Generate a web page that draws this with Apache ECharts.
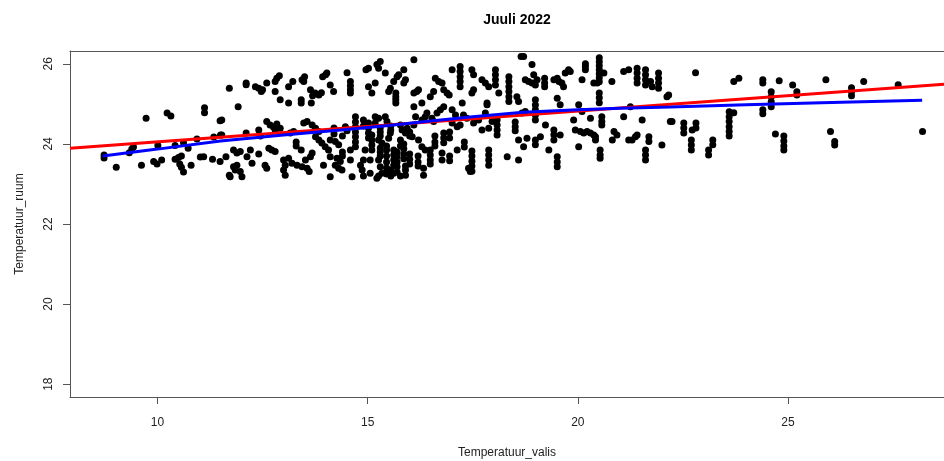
<!DOCTYPE html>
<html>
<head>
<meta charset="utf-8">
<script src="https://cdn.jsdelivr.net/npm/echarts@6/dist/echarts.min.js"></script>
<style>html,body{margin:0;padding:0;background:#fff}#c{width:944px;height:461px}</style>
</head>
<body>
<div id="c"></div>
<script>
const chartTitle = 'Juuli 2022';
const xName = 'Temperatuur_valis';
const yName = 'Temperatuur_ruum';
const xTicks = [10, 15, 20, 25];
const yTicks = [18, 20, 22, 24, 26];

// [Temperatuur_valis, Temperatuur_ruum]
const observations = [
[8.73,23.72],[8.73,23.65],[9.02,23.42],[9.39,23.87],[9.33,23.78],[9.43,23.92],[9.73,24.64],[9.62,23.47],
[10.01,23.96],[9.91,23.56],[9.99,23.5],[10.1,23.6],[10.23,24.77],[10.32,24.7],[10.42,23.96],[10.62,24.03],
[10.73,23.89],[10.42,23.62],[10.5,23.66],[10.57,23.7],[10.53,23.5],[10.57,23.42],[10.62,23.3],[10.8,23.47],
[10.94,24.12],[11.02,23.67],[11.1,23.68],[11.12,24.9],[11.12,24.78],[11.31,23.62],[11.34,24.17],[11.49,24.58],
[11.49,23.56],[11.5,24.22],
[11.71,25.39],[11.92,24.93],[12.11,25.52],[12.11,25.48],[12.33,25.43],[12.41,25.39],[12.5,25.35],[12.47,25.31],
[12.6,25.52],[12.8,25.56],[12.84,25.64],[12.9,25.7],[12.8,25.31],[12.92,25.1],[13.12,25.02],[13.12,25.43],
[13.22,25.56],[13.42,25.1],[13.42,25.02],[13.44,25.6],[13.5,25.68],[13.48,25.56],[13.64,25.35],[13.69,25.2],
[13.66,25.02],[13.75,25.27],[13.84,25.22],[13.9,25.28],[13.93,25.68],[14.0,25.73],[14.03,25.77],[14.11,25.47],
[14.19,25.31],[14.51,25.78],[14.59,25.56],[14.59,25.45],[14.59,25.35],[14.59,25.27],[14.96,25.85],[15.02,25.89],
[15.02,25.43],
[11.53,24.6],[11.53,24.22],[11.63,23.68],[11.73,23.18],[11.71,23.22],[11.81,23.85],[11.89,23.77],[11.97,23.81],
[11.81,23.43],[11.85,23.35],[11.89,23.47],[11.97,23.31],[12.01,23.18],[12.11,24.27],[12.13,23.68],[12.25,23.52],
[12.21,23.85],[12.41,24.35],[12.45,24.2],[12.41,23.75],[12.6,24.56],[12.68,24.47],[12.76,24.42],[12.84,24.5],
[12.92,24.39],[12.8,24.35],[12.65,23.89],[12.72,23.85],[12.8,23.81],[12.56,23.47],[12.6,23.39],[13.0,23.6],
[13.04,23.47],[13.0,23.35],[13.04,23.22],[13.12,23.64],[13.2,23.52],[13.32,23.47],[13.44,23.43],[13.16,24.27],
[13.24,24.31],[13.42,23.85],[13.48,24.52],[13.56,24.56],[13.52,23.6],[13.64,23.68],[13.68,23.77],[13.56,23.39],
[13.61,23.31],[13.68,24.47],[13.76,24.39],[13.84,24.31],[13.76,24.18],[13.84,24.1],[13.91,24.02],[13.99,23.93],
[14.07,23.85],[13.95,23.47],[14.11,24.1],[14.23,24.06],[14.31,23.98],[14.11,23.68],[14.27,23.64],[14.35,23.56],
[14.11,23.18],[14.23,23.47],[14.31,23.39],[14.39,23.35],[14.47,24.43],[14.51,24.33],[14.59,23.85],[14.59,23.6],
[14.63,23.18],[14.71,24.68],[14.71,24.55],[14.71,24.42],[14.71,24.3],[14.71,24.18],[14.71,24.05],[14.71,23.93],
[14.83,23.47],[14.87,23.35],[14.94,23.85],[15.02,24.52],[15.02,24.4],[15.02,24.27],[15.02,24.15],[15.06,23.6],
[15.06,23.27],
[13.3,24.05],[13.3,23.95],[14.2,24.4],[14.2,24.25],[14.4,23.8],[14.4,23.7],[14.4,24.2],[14.9,24.45],[14.9,24.6],
[14.9,23.6],[14.9,23.2],
[15.22,25.98],[15.26,25.89],[15.3,26.06],[15.18,25.52],[15.1,25.27],[15.42,25.77],[15.5,25.31],[15.54,25.39],
[15.62,25.56],[15.7,25.68],[15.74,25.73],[15.67,25.27],[15.67,25.18],[15.67,25.1],[15.67,25.02],[15.86,25.85],
[15.9,25.6],[15.86,25.52],[16.1,26.1],[16.1,25.27],[16.17,25.31],[16.21,25.35],[16.29,25.02],[16.49,25.18],
[16.57,25.31],[16.61,25.64],[16.69,25.56],[16.77,25.52],[16.81,25.35],[16.89,25.27],[16.94,25.22],[17.01,25.85],
[17.2,25.93],[17.2,25.81],[17.2,25.68],[17.2,25.56],[17.2,25.43],[17.25,25.02],[17.48,25.85],[17.52,25.73],
[17.48,25.27],[17.52,25.35],[17.72,25.6],[17.8,25.52],[17.88,25.43],[17.84,24.98],[18.04,25.85],[18.04,25.73],
[18.04,25.6],[18.04,25.47],[18.12,25.27],[18.36,25.68],[18.36,25.56],[18.36,25.43],[18.36,25.31],[18.36,25.18],
[18.36,25.06],[18.55,25.18],[18.59,25.06],[18.65,26.18],
[15.18,24.68],[15.26,24.64],[15.18,24.52],[15.1,24.22],[15.1,24.1],[15.1,23.97],[15.1,23.85],[15.26,24.1],
[15.34,24.02],[15.26,23.6],[15.3,23.43],[15.34,23.27],[15.22,23.14],[15.26,23.2],[15.42,24.68],[15.46,24.56],
[15.54,24.27],[15.5,24.14],[15.62,23.85],[15.62,23.72],[15.62,23.6],[15.62,23.47],[15.62,23.27],[15.7,23.8],
[15.7,23.68],[15.7,23.55],[15.7,23.43],[15.7,23.3],[15.78,24.47],[15.82,24.35],[15.9,24.27],[15.94,24.39],
[15.86,24.0],[15.86,23.88],[15.86,23.75],[15.86,23.63],[15.9,23.45],[15.9,23.35],[15.9,23.22],[16.1,24.93],
[16.14,24.68],[16.1,24.47],[16.06,24.18],[16.29,24.6],[16.37,24.68],[16.41,24.77],[16.21,24.1],[16.29,23.93],
[16.37,23.85],[16.33,23.39],[16.33,23.22],[16.53,24.64],[16.57,24.56],[16.49,23.85],[16.49,23.72],[16.49,23.6],
[16.49,23.5],[16.65,24.77],[16.73,24.85],[16.81,24.93],[16.81,24.27],[16.81,24.15],[16.81,24.03],[16.77,23.77],
[16.77,23.6],[17.01,24.85],[17.09,24.72],[17.01,24.52],[17.13,24.43],[17.2,24.47],[17.13,23.85],[17.28,24.72],
[17.36,24.64],[17.48,23.82],[17.48,23.7],[17.48,23.57],[17.48,23.45],[17.48,23.32],[17.4,23.39],[17.44,23.31],
[17.52,24.52],[17.64,24.6],[17.84,25.02],[17.8,24.77],[17.72,24.35],[17.88,24.39],[17.96,24.56],[17.88,23.85],
[17.88,23.72],[17.88,23.6],[17.88,23.47],[18.08,24.6],[18.08,24.47],[18.08,24.35],[18.08,24.22],[18.32,23.68],
[18.51,24.55],[18.51,24.43],[18.51,24.33],[18.59,24.1],[18.59,23.6],
[15.3,24.4],[15.3,24.3],[15.3,24.2],[15.3,23.9],[15.3,23.8],[15.3,23.7],[15.45,23.95],[15.45,23.85],[15.45,23.7],
[15.45,23.55],[15.45,23.4],[15.45,23.25],[15.55,24.45],[15.55,24.35],[15.55,23.35],[15.55,23.2],[15.78,24.1],
[15.78,23.95],[15.78,23.2],[16.0,24.3],[16.0,24.2],[16.0,23.75],[16.0,23.62],[16.0,23.5],[16.2,23.7],[16.2,23.55],
[16.2,23.45],[16.6,24.2],[16.6,24.05],[16.6,23.95],[16.95,24.3],[16.95,24.15],[16.95,23.7],[16.95,23.58],
[17.3,24.05],[17.3,23.92],
[18.71,26.18],[18.91,25.98],[18.75,25.6],[18.83,25.56],[18.91,25.52],[19.03,25.6],[18.99,25.47],[18.95,25.73],
[19.21,25.64],[19.21,25.52],[19.21,25.43],[19.43,25.6],[19.51,25.64],[19.55,25.56],[19.62,25.52],[19.66,25.43],
[19.7,25.77],[19.78,25.85],[19.82,25.81],[19.51,25.14],[19.58,24.98],[20.1,25.6],[20.18,26.0],[20.18,25.93],
[20.18,25.85],[20.38,25.52],[20.46,25.52],[20.51,26.15],[20.51,26.05],[20.51,25.95],[20.51,25.85],[20.51,25.75],
[20.51,25.65],[20.51,25.55],[20.51,25.27],[20.51,25.15],[20.51,25.03],[20.62,25.77],[20.81,25.56],[21.21,25.85],
[21.09,25.81],[21.41,25.89],[21.41,25.77],[21.41,25.64],[21.41,25.52],[21.61,25.85],[21.61,25.73],[21.61,25.6],
[21.61,25.47],[21.73,25.56],[21.77,25.43],[21.92,25.77],[21.92,25.64],[21.92,25.52],[21.92,25.39],[22.12,25.18],
[22.16,25.22],
[18.67,24.77],[18.75,24.81],[18.99,25.1],[18.99,24.97],[18.99,24.85],[18.99,24.72],[18.99,24.6],[18.99,24.1],
[18.99,23.98],[18.79,24.14],[18.71,23.93],[19.23,24.47],[19.11,24.18],[19.31,23.85],[19.43,24.35],[19.43,24.23],
[19.43,24.1],[19.58,24.22],[19.51,23.68],[19.51,23.55],[19.51,23.43],[19.9,24.6],[20.02,24.98],[20.1,24.81],
[19.94,24.35],[20.06,24.31],[20.14,24.27],[20.22,24.31],[20.3,24.27],[20.38,24.22],[20.02,23.93],[20.3,24.64],
[20.42,24.18],[20.42,24.1],[20.57,24.68],[20.57,24.56],[20.57,24.47],[20.53,23.85],[20.53,23.72],[20.53,23.64],
[20.86,24.31],[20.82,24.1],[20.93,24.22],[21.09,24.68],[21.25,24.93],[21.21,24.1],[21.29,24.1],[21.37,24.18],
[21.41,24.22],[21.53,24.6],[21.61,23.85],[21.61,23.72],[21.61,23.6],[21.69,24.18],[21.69,24.06],[22.0,23.97],
[22.2,24.56],
[22.8,25.78],[23.71,25.56],[23.83,25.64],[24.4,25.6],[24.4,25.52],[24.79,25.58],[25.11,25.47],[25.21,25.3],
[25.21,25.22],[24.6,25.3],[24.6,25.18],[24.6,25.05],[24.6,24.93],[24.4,24.85],[24.4,24.75],[22.24,24.56],
[22.52,24.52],[22.52,24.4],[22.52,24.27],[22.72,24.35],[22.81,24.52],[22.81,24.4],[22.7,24.1],[22.7,23.97],
[22.7,23.85],[23.11,23.85],[23.11,23.72],[23.21,24.1],[23.21,23.98],[23.6,24.8],[23.6,24.68],[23.6,24.56],
[23.6,24.43],[23.6,24.31],[23.6,24.2],[23.71,24.78],[24.7,24.25],[24.9,24.2],[24.9,24.07],[24.9,23.95],
[24.9,23.85],
[25.9,25.6],[26.01,24.31],[26.11,24.06],[26.11,23.97],[26.51,25.4],[26.51,25.3],[26.51,25.2],[26.8,25.56],
[27.62,25.48],[28.2,24.31]
];

// linear fit (red), spans the whole plot region
const lmX = [7.92, 28.71];
const lmY = [23.89, 25.49];

// lowess smooth (blue)
const lowessX = [8.70, 10.0, 11.5, 13.0, 14.5, 15.5, 16.5, 17.5, 18.7, 20.0, 21.0, 22.2, 24.0, 25.8, 27.0, 28.19];
const lowessY = [23.70, 23.87, 24.07, 24.22, 24.36, 24.46, 24.57, 24.68, 24.79, 24.85, 24.89, 24.92, 24.98, 25.03, 25.06, 25.09];

const font = 'Liberation Sans, Arial, sans-serif';
const boxLine = {show: true, lineStyle: {color: '#555', width: 1}};
const chart = echarts.init(document.getElementById('c'), null, {renderer: 'canvas'});
chart.setOption({
  animation: false,
  backgroundColor: '#fff',
  title: {
    text: chartTitle, left: 512, top: 8, textAlign: 'center',
    textStyle: {fontFamily: font, fontSize: 14, fontWeight: 'bold', color: '#000'}
  },
  grid: {left: 70, right: 0, top: 51, bottom: 64, show: false, containLabel: false, outerBoundsMode: 'none'},
  xAxis: [{
    type: 'value', min: 7.92, max: 28.71,
    name: xName, nameLocation: 'middle', nameGap: 50,
    nameTextStyle: {fontFamily: font, fontSize: 12, color: '#222'},
    axisLine: boxLine, position: 'bottom',
    axisTick: {show: true, length: 7, customValues: xTicks, lineStyle: {color: '#555'}},
    axisLabel: {customValues: xTicks, margin: 20, fontFamily: font, fontSize: 12, color: '#222'},
    splitLine: {show: false}
  }, {
    type: 'value', min: 7.92, max: 28.71, position: 'top',
    axisLine: boxLine, axisTick: {show: false}, axisLabel: {show: false}, splitLine: {show: false}
  }],
  yAxis: {
    type: 'value', min: 17.68, max: 26.32,
    name: yName, nameLocation: 'middle', nameGap: 44,
    nameTextStyle: {fontFamily: font, fontSize: 12, color: '#222'},
    axisLine: boxLine,
    axisTick: {show: true, length: 7, customValues: yTicks, lineStyle: {color: '#555'}},
    axisLabel: {customValues: yTicks, rotate: 90, margin: 15, fontFamily: font, fontSize: 12, color: '#222'},
    splitLine: {show: false}
  },
  series: [
    {type: 'scatter', data: observations, symbol: 'circle', symbolSize: 7, itemStyle: {color: '#000', opacity: 1}, silent: true, z: 2},
    {type: 'line', data: lmX.map((x, i) => [x, lmY[i]]), showSymbol: false, lineStyle: {color: '#ff0000', width: 3}, silent: true, z: 3},
    {type: 'line', data: lowessX.map((x, i) => [x, lowessY[i]]), showSymbol: false, lineStyle: {color: '#0000ff', width: 3}, silent: true, z: 4}
  ]
});
</script>
</body>
</html>
